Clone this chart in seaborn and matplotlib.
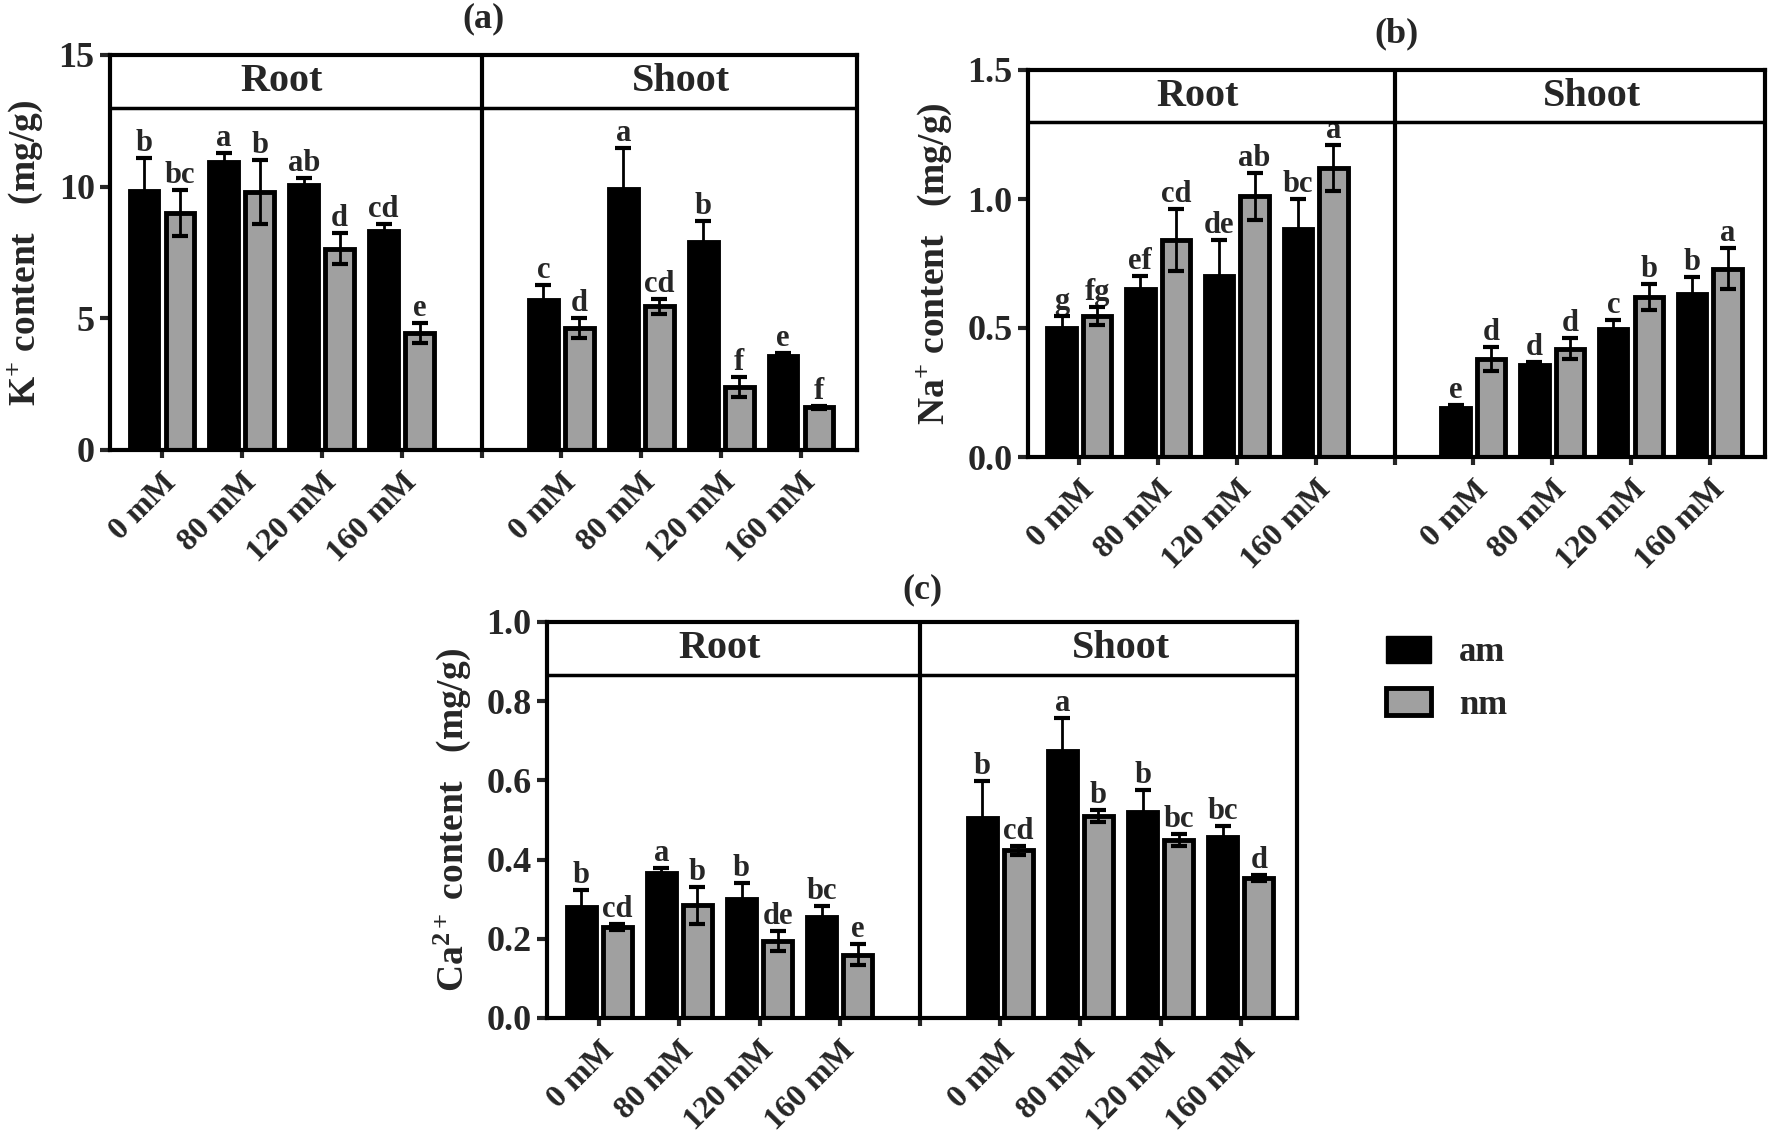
import pandas as pd
import matplotlib
matplotlib.use('Agg')
import matplotlib.pyplot as plt
import seaborn as sns
from matplotlib.patches import Patch

# x slots: four concentrations for Root, an empty slot for the divider, four for Shoot
conc = ['0 mM', '80 mM', '120 mM', '160 mM']
slots = ['Root ' + c for c in conc] + ['gap'] + ['Shoot ' + c for c in conc]
slot_labels = conc + [''] + conc
treatments = ['am', 'nm']

# K+ content (mg/g), order: Root 0/80/120/160, Shoot 0/80/120/160
k_am = [9.85, 10.95, 10.05, 8.33, 5.70, 9.90, 7.90, 3.57]
k_am_err = [1.25, 0.32, 0.27, 0.25, 0.55, 1.55, 0.80, 0.12]
k_nm = [9.00, 9.80, 7.65, 4.45, 4.65, 5.45, 2.40, 1.62]
k_nm_err = [0.87, 1.20, 0.60, 0.38, 0.38, 0.28, 0.37, 0.05]
k_am_sig = ['b', 'a', 'ab', 'cd', 'c', 'a', 'b', 'e']
k_nm_sig = ['bc', 'b', 'd', 'e', 'd', 'cd', 'f', 'f']

# Na+ content (mg/g)
na_am = [0.50, 0.65, 0.70, 0.885, 0.19, 0.355, 0.497, 0.63]
na_am_err = [0.045, 0.05, 0.14, 0.115, 0.012, 0.013, 0.033, 0.068]
na_nm = [0.545, 0.84, 1.01, 1.12, 0.38, 0.42, 0.62, 0.73]
na_nm_err = [0.035, 0.12, 0.09, 0.09, 0.047, 0.04, 0.05, 0.08]
na_am_sig = ['g', 'ef', 'de', 'bc', 'e', 'd', 'c', 'b']
na_nm_sig = ['fg', 'cd', 'ab', 'a', 'd', 'd', 'b', 'a']

# Ca2+ content (mg/g)
ca_am = [0.28, 0.365, 0.30, 0.254, 0.505, 0.675, 0.52, 0.458]
ca_am_err = [0.044, 0.013, 0.042, 0.028, 0.093, 0.083, 0.055, 0.028]
ca_nm = [0.23, 0.285, 0.195, 0.16, 0.423, 0.51, 0.45, 0.354]
ca_nm_err = [0.008, 0.047, 0.025, 0.026, 0.011, 0.014, 0.015, 0.008]
ca_am_sig = ['b', 'a', 'b', 'bc', 'b', 'a', 'b', 'bc']
ca_nm_sig = ['cd', 'b', 'de', 'e', 'cd', 'b', 'bc', 'd']

GRAY = '#a0a0a0'

sns.set_style('ticks')
plt.rcParams['font.family'] = ['Liberation Serif', 'DejaVu Serif']
plt.rcParams['font.weight'] = 'bold'
plt.rcParams['axes.labelweight'] = 'bold'
plt.rcParams['mathtext.fontset'] = 'custom'
plt.rcParams['mathtext.rm'] = 'Liberation Serif:bold'
plt.rcParams['mathtext.it'] = 'Liberation Serif:italic:bold'
plt.rcParams['mathtext.bf'] = 'Liberation Serif:bold'
plt.rcParams['mathtext.default'] = 'rm'


def make_df(am, am_err, am_sig, nm, nm_err, nm_sig):
    data_slots = [s for s in slots if s != 'gap']
    rows = []
    for trt, vals, errs, sigs in [('am', am, am_err, am_sig), ('nm', nm, nm_err, nm_sig)]:
        for s, v, e, g in zip(data_slots, vals, errs, sigs):
            rows.append({'slot': s, 'treat': trt, 'value': v, 'err': e, 'sig': g})
    return pd.DataFrame(rows)


def draw_panel(ax, df, ymax, yticks, yfmt, ylabel, title, title_pad):
    sns.barplot(data=df, x='slot', y='value', hue='treat', order=slots,
                hue_order=treatments, palette={'am': 'black', 'nm': GRAY},
                width=0.9, gap=0.2, errorbar=None, edgecolor='black',
                linewidth=3.5, legend=False, ax=ax)

    # error bars and significance letters from bar positions
    for cont, trt in zip(ax.containers, treatments):
        sub = df[df['treat'] == trt]
        for bar, (_, row) in zip(cont, sub.iterrows()):
            xc = bar.get_x() + bar.get_width() / 2
            top = bar.get_height()
            ax.errorbar(xc, top, yerr=row['err'], fmt='none', ecolor='black',
                        elinewidth=2, capsize=6, capthick=3, zorder=5)
            ax.annotate(row['sig'], (xc, top + row['err']), xytext=(0, 0),
                        textcoords='offset points', ha='center', va='bottom',
                        fontsize=22, fontweight='bold')

    ax.set_xlim(-0.65, 8.7)
    ax.set_ylim(0, ymax)
    ax.set_yticks(yticks)
    ax.set_yticklabels([yfmt.format(t) for t in yticks], fontsize=26)
    ax.set_xticks(range(len(slots)))
    ax.set_xticklabels(slot_labels, rotation=45, ha='right',
                       rotation_mode='anchor', fontsize=23)
    ax.set_xlabel('')
    ax.set_ylabel(ylabel, fontsize=27, labelpad=10)
    ax.set_title(title, fontsize=26, fontweight='bold', pad=title_pad)

    for sp in ax.spines.values():
        sp.set_visible(True)
        sp.set_linewidth(3)
        sp.set_color('black')
    ax.tick_params(axis='y', width=3, length=7, pad=4)
    ax.tick_params(axis='x', width=3, length=6, pad=7)

    # header strip with Root | Shoot
    strip = ymax * 0.865
    ax.axhline(strip, color='black', lw=2.5, zorder=6)
    ax.axvline(4, color='black', lw=3, zorder=6)
    ax.text(1.5, (strip + ymax) / 2, 'Root', ha='center', va='center',
            fontsize=29, fontweight='bold')
    ax.text(6.5, (strip + ymax) / 2, 'Shoot', ha='center', va='center',
            fontsize=29, fontweight='bold')


fig = plt.figure(figsize=(17.7, 11.39), dpi=100)
W, H = 1770, 1139


def rect(x0, y0, x1, y1):
    return [x0 / W, 1 - y1 / H, (x1 - x0) / W, (y1 - y0) / H]


ax_a = fig.add_axes(rect(110, 55, 857, 450))
ax_b = fig.add_axes(rect(1028, 70, 1765, 457))
ax_c = fig.add_axes(rect(547, 622, 1297, 1018))

draw_panel(ax_a, make_df(k_am, k_am_err, k_am_sig, k_nm, k_nm_err, k_nm_sig),
           15, [0, 5, 10, 15], '{:.0f}', 'K$^{+}$ content   (mg/g)', '(a)', 20)
draw_panel(ax_b, make_df(na_am, na_am_err, na_am_sig, na_nm, na_nm_err, na_nm_sig),
           1.5, [0.0, 0.5, 1.0, 1.5], '{:.1f}', 'Na$^{+}$ content   (mg/g)', '(b)', 20)
draw_panel(ax_c, make_df(ca_am, ca_am_err, ca_am_sig, ca_nm, ca_nm_err, ca_nm_sig),
           1.0, [0.0, 0.2, 0.4, 0.6, 0.8, 1.0], '{:.1f}', 'Ca$^{2+}$ content   (mg/g)', '(c)', 17)

handles = [Patch(facecolor='black', edgecolor='black', linewidth=1),
           Patch(facecolor=GRAY, edgecolor='black', linewidth=3.5)]
fig.legend(handles, treatments, loc='upper left', bbox_to_anchor=(1386 / W, 1 - 636 / H),
           frameon=False, handlelength=1.3, handleheight=0.8,
           handletextpad=0.8, labelspacing=0.55, borderpad=0, borderaxespad=0,
           prop={'weight': 'bold', 'size': 25})

fig.savefig('out.png', dpi=100)
